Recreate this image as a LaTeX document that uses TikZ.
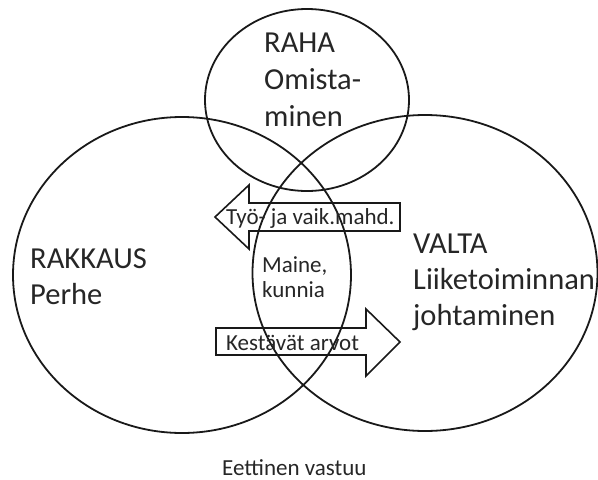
\documentclass[tikz,border=0pt]{standalone}
\usepackage{fontspec}
\setmainfont{Carlito}
\usetikzlibrary{shapes.geometric}
\begin{document}
\begin{tikzpicture}[x=1pt,y=-1pt,
  ring/.style={draw=black!90, line width=1.8pt, ellipse, inner sep=0pt},
  flow/.style={draw=black!90, line width=1.6pt, line join=miter},
  bigtxt/.style={anchor=base west, inner sep=0pt, text=black!85, font=\fontsize{30.5}{36}\selectfont},
  midtxt/.style={anchor=base west, inner sep=0pt, text=black!85, font=\fontsize{23}{27}\selectfont}]
\useasboundingbox (0,0) rectangle (598,480);

% the three overlapping areas
\node[ring, minimum width=204, minimum height=182] (raha) at (307,100) {};
\node[ring, minimum width=338, minimum height=316] (rakkaus) at (182,275) {};
\node[ring, minimum width=345, minimum height=316] (valta) at (425,273) {};

% flow arrows (outline only)
\draw[flow] (215,217) -- (249,185) -- (249,203) -- (400,203) -- (400,231)
  -- (249,231) -- (249,249) -- cycle;
\draw[flow] (216,328) -- (366,328) -- (366,309) -- (400,342) -- (366,376)
  -- (366,355) -- (216,355) -- cycle;

% labels
\node[bigtxt] (rahaA) at (264,52) {RAHA};
\node[bigtxt] (rahaB) at (264,89) {Omista-};
\node[bigtxt] (rahaC) at (264,126) {minen};
\node[bigtxt] (rakA) at (30,268) {RAKKAUS};
\node[bigtxt] (rakB) at (30,304) {Perhe};
\node[bigtxt] (valA) at (413,253) {VALTA};
\node[bigtxt] (valB) at (413,289) {Liiketoiminnan};
\node[bigtxt] (valC) at (413,325) {johtaminen};
\node[midtxt] (maineA) at (262,272) {Maine,};
\node[midtxt] (maineB) at (262,297) {kunnia};
\node[midtxt] (tyo) at (226,224) {Työ- ja vaik.mahd.};
\node[midtxt] (kest) at (226,350) {Kestävät arvot};
\node[midtxt] (etiikka) at (222,475) {Eettinen vastuu};
\end{tikzpicture}
\end{document}
